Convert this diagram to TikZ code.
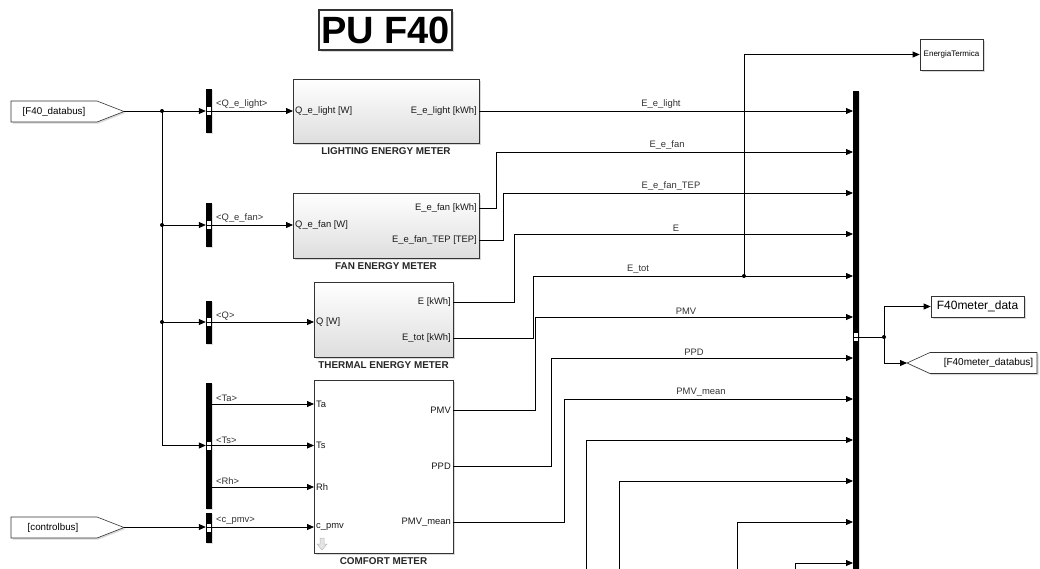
\documentclass[tikz,border=0pt]{standalone}
\usepackage{fontspec}
\setmainfont{Liberation Sans}
\usetikzlibrary{positioning,arrows.meta,shadows}

\begin{document}
\begin{tikzpicture}[x=1pt,y=-1pt,font=\fontsize{9.4}{10}\selectfont,
   blk/.style={draw=black!80,line width=0.7pt,top color=white,bottom color=black!13,inner sep=0pt,
     drop shadow={shadow xshift=1.5pt,shadow yshift=-1.5pt,opacity=0.3}},
   plainblk/.style={blk,top color=white,bottom color=white},
   bar/.style={fill=black,minimum width=6pt,inner sep=0pt,
     drop shadow={shadow xshift=1pt,shadow yshift=-1pt,opacity=0.25}},
   tag/.style={draw=black!80,line width=0.6pt,fill=white,
     drop shadow={shadow xshift=1.5pt,shadow yshift=-1.5pt,opacity=0.3}},
   port/.style={inner sep=2pt,color=black!90},
   lbl/.style={inner sep=1pt,color=black!80},
   blkname/.style={font=\bfseries\fontsize{9.9}{11}\selectfont,color=black!85},
   sig/.style={-{Triangle[length=7pt,width=6pt]},line width=0.8pt},
   wire/.style={line width=0.8pt},
   dot/.style={circle,fill=black,inner sep=0pt,minimum size=4pt}]
 \useasboundingbox (0,0) rectangle (1040,568);
 \clip (0,0) rectangle (1040,568);
 % title
 \node[plainblk,line width=1.2pt,minimum width=133pt,minimum height=40pt,
   font=\bfseries\fontsize{38}{40}\selectfont] (pu) at (385.5,30) {PU F40};
 % from tags
 \draw[tag] (11,101) -- (97,101) -- (124,111.5) -- (97,122) -- (11,122) -- cycle;
 \node (fdb) at (54,111.5) {\fontsize{9.8}{10}\selectfont[F40\_databus]};
 \coordinate (fdbTip) at (124,111);
 \draw[tag] (11,517) -- (97,517) -- (124,527.5) -- (97,538) -- (11,538) -- cycle;
 \node (cb) at (53,527.5) {\fontsize{9.8}{10}\selectfont[controlbus]};
 \coordinate (cbTip) at (124,527);
 % bus selectors
 \node[bar,minimum height=44pt] (s1) at (209,111) {};
 \node[bar,minimum height=44pt] (s2) at (209,225) {};
 \node[bar,minimum height=43pt] (s3) at (209,322) {};
 \node[bar,minimum height=126pt] (s4) at (209,445.5) {};
 \node[bar,minimum height=30pt] (s5) at (209,527.5) {};
 % meter blocks
 \node[blk,minimum width=186pt,minimum height=64pt] (light) at (386,111) {};
 \node[blkname,below=1pt of light] (lightN) {LIGHTING ENERGY METER};
 \node[blk,minimum width=186pt,minimum height=65pt] (fan) at (386,225.5) {};
 \node[blkname,below=1pt of fan] (fanN) {FAN ENERGY METER};
 \node[blk,minimum width=139pt,minimum height=75pt] (therm) at (383.5,319.5) {};
 \node[blkname,below=1pt of therm] (thermN) {THERMAL ENERGY METER};
 \node[plainblk,minimum width=139pt,minimum height=173pt] (comf) at (383.5,466.5) {};
 \node[blkname,below=1pt of comf] (comfN) {COMFORT METER};
 \draw[gray!55,fill=gray!20,line width=0.5pt] (320,538) -- (324,538) -- (324,544) -- (327,544)
   -- (322,550) -- (317,544) -- (320,544) -- cycle;
 % ports
 \node[port,anchor=west] (pQel) at (293,111) {Q\_e\_light [W]};
 \node[port,anchor=east] (pEel) at (479,111) {E\_e\_light [kWh]};
 \node[port,anchor=west] (pQef) at (293,225) {Q\_e\_fan [W]};
 \node[port,anchor=east] (pEef) at (479,208) {E\_e\_fan [kWh]};
 \node[port,anchor=east] (pEtep) at (479,240) {E\_e\_fan\_TEP [TEP]};
 \node[port,anchor=west] (pQ) at (314,322) {Q [W]};
 \node[port,anchor=east] (pE) at (453,302) {E [kWh]};
 \node[port,anchor=east] (pEtot) at (453,338) {E\_tot [kWh]};
 \node[port,anchor=west] (pTa) at (314,404) {Ta};
 \node[port,anchor=west] (pTs) at (314,445.5) {Ts};
 \node[port,anchor=west] (pRh) at (314,487) {Rh};
 \node[port,anchor=west] (pCp) at (314,527) {c\_pmv};
 \node[port,anchor=east] (pPMV) at (453,410) {PMV};
 \node[port,anchor=east] (pPPD) at (453,466) {PPD};
 \node[port,anchor=east] (pPm) at (453,522) {PMV\_mean};
 % bus creator and outputs
 \node[bar,minimum height=489pt] (mux) at (856,335.5) {};
 \foreach \i/\y in {1/111,2/152,3/193,4/234,5/276,6/317,7/358,8/399,9/440,10/481,11/522,12/563}
   \coordinate (in\i) at (853,\y);
 \node[plainblk,minimum width=63pt,minimum height=31pt,font=\fontsize{8}{9}\selectfont] (et) at (951.5,54.5) {EnergiaTermica};
 \node[plainblk,minimum width=93pt,minimum height=21pt,font=\fontsize{12}{13}\selectfont] (md) at (977.5,306.5) {F40meter\_data};
 \draw[tag] (907,363) -- (930,352.5) -- (1037,352.5) -- (1037,373.5) -- (930,373.5) -- cycle;
 \node (gt) at (988.5,363) {\fontsize{10}{11}\selectfont[F40meter\_databus]};
 \coordinate (gtTip) at (907,363);
 % bus markers
 \foreach \s in {s1,s2,s3,s4,s5} {
   \fill[white] ([shift={(-2,-4)}]\s.center) rectangle ([shift={(2,4)}]\s.center);
   \draw[line width=0.6pt] ([xshift=-2pt]\s.center) -- ([xshift=2pt]\s.center);
 }
 \fill[white] (854,333) rectangle (858,341);
 \draw[line width=0.6pt] (854,337) -- (858,337);
 % input side
 \coordinate (j1) at (162,111);
 \coordinate (j2) at (162,225);
 \coordinate (j3) at (162,322);
 \draw[sig] (fdbTip) -- (s1.west);
 \draw[sig] (j1) |- (s2.west);
 \draw[sig] (j2) |- (s3.west);
 \draw[sig] (j3) |- (s4.west);
 \draw[sig] (cbTip) -- (s5.west |- cbTip);
 \foreach \j in {j1,j2,j3} \node[dot] at (\j) {};
 \draw[sig] (s1.east) -- (pQel.west);
 \draw[sig] (s2.east) -- (pQef.west);
 \draw[sig] (s3.east) -- (pQ.west);
 \draw[sig] (s4.east |- pTa.west) -- (pTa.west);
 \draw[sig] (s4.east |- pTs.west) -- (pTs.west);
 \draw[sig] (s4.east |- pRh.west) -- (pRh.west);
 \draw[sig] (s5.east |- pCp.west) -- (pCp.west);
 \node[lbl,anchor=south west] (l1) at (215,110) {<Q\_e\_light>};
 \node[lbl,anchor=south west] (l2) at (215,224) {<Q\_e\_fan>};
 \node[lbl,anchor=south west] (l3) at (215,321) {<Q>};
 \node[lbl,anchor=south west] (l4) at (215,403) {<Ta>};
 \node[lbl,anchor=south west] (l5) at (215,444.5) {<Ts>};
 \node[lbl,anchor=south west] (l6) at (215,486) {<Rh>};
 \node[lbl,anchor=south west] (l7) at (215,526) {<c\_pmv>};
 % meters to bus creator
 \draw[sig] (pEel.east) -- (in1);
 \draw[sig] (pEef.east) -- ++(17,0) |- (in2);
 \draw[sig] (pEtep.east) -- ++(24,0) |- (in3);
 \draw[sig] (pE.east) -- ++(61,0) |- (in4);
 \draw[sig] (pEtot.east) -- ++(80,0) |- (in5);
 \draw[sig] (pPMV.east) -- ++(82,0) |- (in6);
 \draw[sig] (pPPD.east) -- ++(98,0) |- (in7);
 \draw[sig] (pPm.east) -- ++(111,0) |- (in8);
 \coordinate (b9) at (586,580);
 \coordinate (b10) at (619,580);
 \coordinate (b11) at (737,580);
 \coordinate (b12) at (795,580);
 \draw[sig] (b9) |- (in9);
 \draw[sig] (b10) |- (in10);
 \draw[sig] (b11) |- (in11);
 \draw[sig] (b12) |- (in12);
 \node[lbl,anchor=south] (lEl) at (661,110) {E\_e\_light};
 \node[lbl,anchor=south] (lEf) at (667,151) {E\_e\_fan};
 \node[lbl,anchor=south] (lEt) at (671,192) {E\_e\_fan\_TEP};
 \node[lbl,anchor=south] (lE) at (676,233) {E};
 \node[lbl,anchor=south] (lEtot) at (638,275) {E\_tot};
 \node[lbl,anchor=south] (lPMV) at (686,316) {PMV};
 \node[lbl,anchor=south] (lPPD) at (694,357) {PPD};
 \node[lbl,anchor=south] (lPm) at (701,398) {PMV\_mean};
 % taps
 \coordinate (jt) at (744,276);
 \draw[sig] (jt) |- (et.west);
 \node[dot] at (jt) {};
 \coordinate (jo) at (884,337);
 \draw[wire] (mux.east |- jo) -- (jo);
 \draw[sig] (jo) |- (md.west);
 \draw[sig] (jo) |- (gtTip);
 \node[dot] at (jo) {};
\end{tikzpicture}
\end{document}
